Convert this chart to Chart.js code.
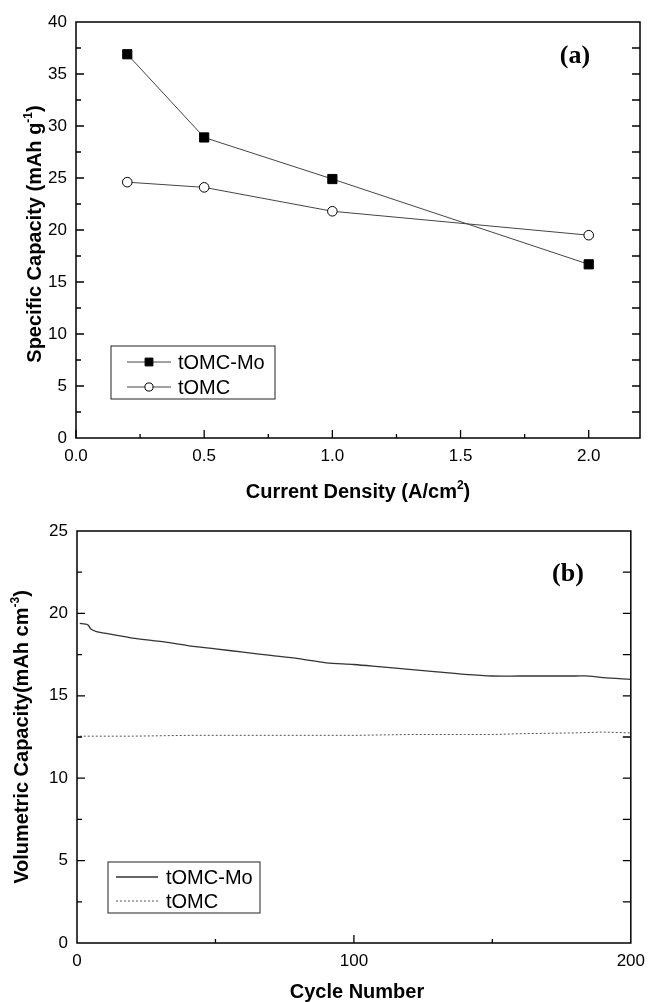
<!DOCTYPE html>
<html>
<head>
<meta charset="utf-8">
<script src="https://cdn.jsdelivr.net/npm/chart.js@4.4.0/dist/chart.umd.min.js"></script>
<style>
    body { margin: 0; background: #fff; }
    canvas { position: absolute; left: 0; }
</style>
</head>
<body>
<canvas id="rateCanvas" width="653" height="505" style="top:0"></canvas>
<canvas id="cycleCanvas" width="653" height="497" style="top:505px"></canvas>
<script>
// (a) rate capability
const currentDensity = [0.2, 0.5, 1.0, 2.0];
const specMo = [36.9, 28.9, 24.9, 16.7];
const specOMC = [24.6, 24.1, 21.8, 19.5];
const rateXTicks = [0, 0.5, 1.0, 1.5, 2.0];
const rateYTicks = [0, 5, 10, 15, 20, 25, 30, 35, 40];

// (b) cycling
const cycleMo = [1, 3, 4, 5, 7, 10, 15, 20, 30, 40, 50, 60, 70, 80, 90, 100, 110, 120, 130, 140, 150, 160, 170, 180, 185, 190, 200];
const volMo = [19.4, 19.35, 19.3, 19.05, 18.9, 18.8, 18.65, 18.5, 18.3, 18.05, 17.85, 17.65, 17.45, 17.25, 17.0, 16.9, 16.75, 16.6, 16.45, 16.3, 16.2, 16.2, 16.2, 16.2, 16.2, 16.1, 16.0];
const cycleOMC = [1, 20, 40, 60, 80, 100, 120, 140, 150, 160, 180, 190, 200];
const volOMC = [12.55, 12.55, 12.6, 12.6, 12.6, 12.6, 12.65, 12.65, 12.65, 12.7, 12.75, 12.8, 12.75];
const cycleXTicks = [0, 100, 200];
const cycleYTicks = [0, 5, 10, 15, 20, 25];

const FONT = "Arial, 'Liberation Sans', sans-serif";

function pts(xs, ys) {
    return xs.map((x, i) => ({ x: x, y: ys[i] }));
}

// draws text, with an optional superscript part
function supText(ctx, main, sup, tail, size, cx, cy, rot) {
    ctx.save();
    ctx.translate(cx, cy);
    if (rot) ctx.rotate(rot);
    const big = `bold ${size}px ${FONT}`;
    const small = `bold ${Math.round(size * 0.6)}px ${FONT}`;
    ctx.font = big;
    const w1 = ctx.measureText(main).width;
    const w3 = ctx.measureText(tail).width;
    ctx.font = small;
    const w2 = ctx.measureText(sup).width;
    let x = -(w1 + w2 + w3) / 2;
    ctx.fillStyle = '#000';
    ctx.textBaseline = 'alphabetic';
    ctx.textAlign = 'left';
    ctx.font = big;
    ctx.fillText(main, x, 0);
    x += w1;
    ctx.font = small;
    ctx.fillText(sup, x, -size * 0.45);
    x += w2;
    ctx.font = big;
    ctx.fillText(tail, x, 0);
    ctx.restore();
}

// frame + inward ticks + titles + legend box
const decor = {
    id: 'decor',
    afterDatasetsDraw(chart, args, o) {
        const { ctx, chartArea: a } = chart;
        const xs = chart.scales.x, ys = chart.scales.y;
        ctx.save();
        ctx.strokeStyle = '#000';
        ctx.lineWidth = 1.5;
        ctx.strokeRect(a.left, a.top, a.right - a.left, a.bottom - a.top);
        ctx.lineWidth = 1.3;
        ctx.beginPath();
        o.xMajor.forEach(v => { const p = xs.getPixelForValue(v); ctx.moveTo(p, a.bottom); ctx.lineTo(p, a.bottom - 8); });
        o.xMinor.forEach(v => { const p = xs.getPixelForValue(v); ctx.moveTo(p, a.bottom); ctx.lineTo(p, a.bottom - 4); });
        o.yMajor.forEach(v => {
            const p = ys.getPixelForValue(v);
            ctx.moveTo(a.left, p); ctx.lineTo(a.left + 8, p);
            ctx.moveTo(a.right, p); ctx.lineTo(a.right - 8, p);
        });
        o.yMinor.forEach(v => {
            const p = ys.getPixelForValue(v);
            ctx.moveTo(a.left, p); ctx.lineTo(a.left + 5, p);
            ctx.moveTo(a.right, p); ctx.lineTo(a.right - 8, p);
        });
        ctx.stroke();

        // panel letter
        ctx.fillStyle = '#000';
        ctx.font = `bold 26px 'Liberation Serif', 'Times New Roman', serif`;
        ctx.textAlign = 'center';
        ctx.fillText(o.letter[0], o.letter[1], o.letter[2]);

        supText(ctx, o.yTitle[0], o.yTitle[1], o.yTitle[2], 20, o.yTitle[3], o.yTitle[4], -Math.PI / 2);
        supText(ctx, o.xTitle[0], o.xTitle[1], o.xTitle[2], 20, o.xTitle[3], o.xTitle[4], 0);

        // legend
        const L = o.legend;
        ctx.lineWidth = 1;
        ctx.strokeStyle = '#222';
        ctx.strokeRect(L.x, L.y, L.w, L.h);
        chart.data.datasets.forEach((ds, i) => {
            const yy = L.y + L.first + i * L.gap;
            ctx.save();
            ctx.strokeStyle = ds.borderColor;
            ctx.lineWidth = ds.borderWidth;
            ctx.setLineDash(ds.borderDash || []);
            ctx.beginPath();
            ctx.moveTo(L.x + L.l0, yy);
            ctx.lineTo(L.x + L.l1, yy);
            ctx.stroke();
            ctx.restore();
            if (ds.pointRadius > 0) {
                ctx.fillStyle = ds.pointBackgroundColor;
                ctx.strokeStyle = ds.pointBorderColor;
                ctx.lineWidth = 1;
                Chart.helpers.drawPoint(ctx, {
                    pointStyle: ds.pointStyle, radius: ds.pointRadius * 0.85, borderWidth: 1
                }, L.x + (L.l0 + L.l1) / 2, yy);
            }
            ctx.fillStyle = '#000';
            ctx.font = `20px ${FONT}`;
            ctx.textAlign = 'left';
            ctx.textBaseline = 'middle';
            ctx.fillText(ds.label, L.x + L.tx, yy + 1);
            ctx.textBaseline = 'alphabetic';
        });
        ctx.restore();
    }
};

function axes(xMin, xMax, xTicks, xFmt, yMax, yTicks, yW, xH) {
    return {
        x: {
            type: 'linear', min: xMin, max: xMax,
            grid: { display: false, drawTicks: false }, border: { display: false },
            afterBuildTicks: s => { s.ticks = xTicks.map(v => ({ value: v })); },
            afterFit: s => { s.height = xH; },
            ticks: { color: '#000', padding: 8, maxRotation: 0, font: { family: FONT, size: 17 }, callback: xFmt }
        },
        y: {
            type: 'linear', min: 0, max: yMax,
            grid: { display: false, drawTicks: false }, border: { display: false },
            afterBuildTicks: s => { s.ticks = yTicks.map(v => ({ value: v })); },
            afterFit: s => { s.width = yW; },
            ticks: { color: '#000', padding: 9, font: { family: FONT, size: 17 } }
        }
    };
}

new Chart(document.getElementById('rateCanvas'), {
    type: 'line',
    data: {
        datasets: [
            {
                label: 'tOMC-Mo', data: pts(currentDensity, specMo),
                borderColor: '#444', borderWidth: 1, pointStyle: 'rect', pointRadius: 6.5,
                pointBackgroundColor: '#000', pointBorderColor: '#000', pointBorderWidth: 1
            },
            {
                label: 'tOMC', data: pts(currentDensity, specOMC),
                borderColor: '#444', borderWidth: 1, pointStyle: 'circle', pointRadius: 4.8,
                pointBackgroundColor: '#fff', pointBorderColor: '#000', pointBorderWidth: 1
            }
        ]
    },
    options: {
        responsive: false, animation: false,
        layout: { padding: { top: 22, right: 13, left: 0, bottom: 0 } },
        scales: axes(0, 2.2, rateXTicks, v => v.toFixed(1), 40, rateYTicks, 76, 67),
        plugins: {
            legend: { display: false }, tooltip: { enabled: false },
            decor: {
                xMajor: rateXTicks, xMinor: [0.25, 0.75, 1.25, 1.75],
                yMajor: [5, 10, 15, 20, 25, 30, 35], yMinor: [2.5, 7.5, 12.5, 17.5, 22.5, 27.5, 32.5, 37.5],
                letter: ['(a)', 575, 63],
                yTitle: ['Specific Capacity (mAh g', '-1', ')', 41, 234],
                xTitle: ['Current Density (A/cm', '2', ')', 358, 498],
                legend: { x: 111, y: 346, w: 164, h: 53, first: 16, gap: 25, l0: 16, l1: 60, tx: 67 }
            }
        }
    },
    plugins: [decor]
});

new Chart(document.getElementById('cycleCanvas'), {
    type: 'line',
    data: {
        datasets: [
            {
                label: 'tOMC-Mo', data: pts(cycleMo, volMo),
                borderColor: '#333', borderWidth: 1.3, pointRadius: 0, tension: 0.3
            },
            {
                label: 'tOMC', data: pts(cycleOMC, volOMC),
                borderColor: '#555', borderWidth: 1, borderDash: [2, 2], pointRadius: 0
            }
        ]
    },
    options: {
        responsive: false, animation: false,
        layout: { padding: { top: 26, right: 16, left: 0, bottom: 0 } },
        scales: axes(0, 200, cycleXTicks, v => v, 25, cycleYTicks, 77, 59),
        plugins: {
            legend: { display: false }, tooltip: { enabled: false },
            decor: {
                xMajor: [100], xMinor: [50, 150],
                yMajor: [5, 10, 15, 20], yMinor: [2.5, 7.5, 12.5, 17.5, 22.5],
                letter: ['(b)', 568, 76],
                yTitle: ['Volumetric Capacity(mAh cm', '-3', ')', 28, 232],
                xTitle: ['Cycle Number', '', '', 357, 493],
                legend: { x: 108, y: 357, w: 152, h: 51, first: 15, gap: 24, l0: 8, l1: 50, tx: 58 }
            }
        }
    },
    plugins: [decor]
});
</script>
</body>
</html>
